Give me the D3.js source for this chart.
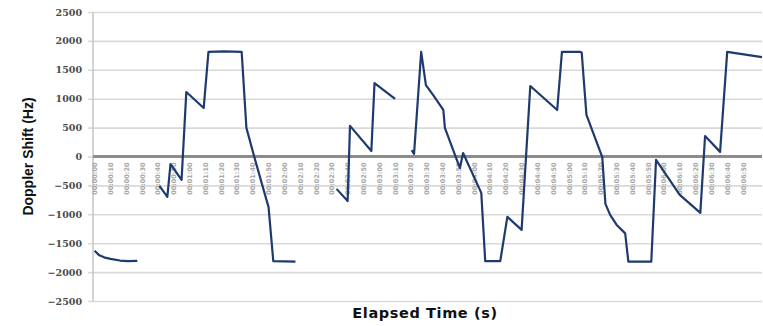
<!DOCTYPE html>
<html>
<head>
<meta charset="utf-8">
<script src="https://cdn.jsdelivr.net/npm/d3@7/dist/d3.min.js"></script>
<style>
  html, body { margin: 0; padding: 0; background: #fff; }
  svg { display: block; }
</style>
</head>
<body>
<svg id="chart"></svg>
<script>
// elapsed time (s) and doppler shift (Hz); null = no signal (gap in the trace)
const elapsedSeconds = [
  0, 3, 6, 10, 16, 21, 27, 28,
  41, 46, 48, 55, 58, 69, 72, 82, 93, 96, 101, 110, 113, 127, 128,
  153, 160, 161.5, 175, 177, 190, 191,
  200.5, 202, 206.5, 209.5, 214, 220.5, 221.5, 231, 233, 244.5, 247, 256.5,
  261, 270, 275.5, 292.5, 295.5, 307, 308, 311, 321, 323, 326, 330, 335.5, 337.5,
  352, 355, 370, 383, 386, 395.5, 400, 422
];
const dopplerShift = [
  -1630, -1710, -1745, -1770, -1800, -1810, -1805, null,
  -510, -700, -130, -405, 1115, 840, 1810, 1820, 1810, 495, -10, -875, -1810, -1820, null,
  -560, -770, 530, 95, 1270, 995, null,
  110, 45, 1810, 1235, 1065, 805, 495, -200, 60, -630, -1810, -1810,
  -1045, -1270, 1220, 805, 1810, 1810, 1800, 720, -10, -820, -1010, -1180, -1330, -1820,
  -1820, -60, -665, -975, 355, 80, 1810, 1720
];

const yTicks = [-2500, -2000, -1500, -1000, -500, 0, 500, 1000, 1500, 2000, 2500];

const timeLabels = [
  "00:00:00", "00:00:10", "00:00:20", "00:00:30", "00:00:40", "00:00:50",
  "00:01:00", "00:01:10", "00:01:20", "00:01:30", "00:01:40", "00:01:50",
  "00:02:00", "00:02:10", "00:02:20", "00:02:30", "00:02:40", "00:02:50",
  "00:03:00", "00:03:10", "00:03:20", "00:03:30", "00:03:40", "00:03:50",
  "00:04:00", "00:04:10", "00:04:20", "00:04:30", "00:04:40", "00:04:50",
  "00:05:00", "00:05:10", "00:05:20", "00:05:30", "00:05:40", "00:05:50",
  "00:06:00", "00:06:10", "00:06:20", "00:06:30", "00:06:40", "00:06:50"
];

const width = 763, height = 326;
const margin = { left: 93, right: 1, top: 12, bottom: 25 };

const svg = d3.select("#chart").attr("width", width).attr("height", height);

const x = d3.scaleLinear().domain([-1, 422]).range([margin.left, width - margin.right]);
const y = d3.scaleLinear().domain([-2500, 2500]).range([height - margin.bottom, margin.top]);

const toSeconds = s => s.split(":").reduce((acc, p) => acc * 60 + +p, 0);

// horizontal gridlines + y labels
const yAxis = d3.axisLeft(y)
  .tickValues(yTicks)
  .tickSize(-(width - margin.right - margin.left))
  .tickPadding(11)
  .tickFormat(d3.format("d"));

const gy = svg.append("g")
  .attr("transform", `translate(${margin.left},0)`)
  .call(yAxis);
gy.select(".domain").remove();
gy.selectAll(".tick line")
  .attr("stroke", "#d9d9d9")
  .attr("stroke-width", 1.6)
  .attr("x1", -5);
gy.selectAll(".tick text")
  .attr("fill", "#4a4a4a")
  .style("font-family", "'DejaVu Serif', serif")
  .style("font-weight", "bold")
  .style("font-size", "9.5px");

// vertical axis line
svg.append("line")
  .attr("x1", margin.left).attr("x2", margin.left)
  .attr("y1", y(2500)).attr("y2", y(-2500))
  .attr("stroke", "#c8c8c8")
  .attr("stroke-width", 1.6);

// thick zero line
svg.append("line")
  .attr("x1", margin.left).attr("x2", width - margin.right)
  .attr("y1", y(0)).attr("y2", y(0))
  .attr("stroke", "#8c8c8c")
  .attr("stroke-width", 3);

// category labels hanging under zero line
svg.append("g")
  .selectAll("text")
  .data(timeLabels)
  .join("text")
  .attr("transform", d => `translate(${x(toSeconds(d)) + 2.5},${y(0) + 6}) rotate(-90)`)
  .attr("text-anchor", "end")
  .attr("fill", "#a8a8a8")
  .style("font-family", "'DejaVu Sans', sans-serif")
  .style("font-weight", "bold")
  .style("font-size", "6.5px")
  .text(d => d);

// the trace
const points = elapsedSeconds.map((t, i) => ({ t, v: dopplerShift[i] }));
const line = d3.line()
  .defined(d => d.v !== null)
  .x(d => x(d.t))
  .y(d => y(d.v));

svg.append("path")
  .datum(points)
  .attr("fill", "none")
  .attr("stroke", "#1f3a6e")
  .attr("stroke-width", 2.2)
  .attr("stroke-linejoin", "round")
  .attr("d", line);

// axis titles
svg.append("text")
  .attr("transform", `translate(33,${y(0)}) rotate(-90)`)
  .attr("text-anchor", "middle")
  .attr("fill", "#111")
  .style("font-family", "'Liberation Sans Narrow', 'Liberation Sans', sans-serif")
  .style("font-weight", "bold")
  .style("font-size", "14px")
  .text("Doppler Shift (Hz)");

svg.append("text")
  .attr("x", 425)
  .attr("y", 318)
  .attr("text-anchor", "middle")
  .attr("fill", "#111")
  .style("font-family", "'DejaVu Sans', sans-serif")
  .style("font-weight", "bold")
  .style("font-size", "14.5px")
  .style("letter-spacing", "0.6px")
  .text("Elapsed Time (s)");
</script>
</body>
</html>
